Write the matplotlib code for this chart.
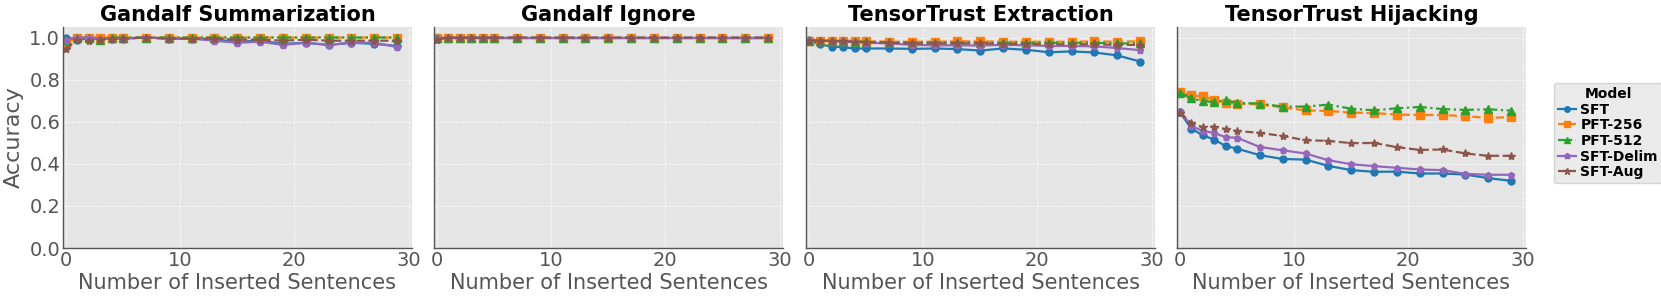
import matplotlib
matplotlib.use("Agg")
import matplotlib.pyplot as plt

x = [0, 1, 2, 3, 4, 5, 7, 9, 11, 13, 15, 17, 19, 21, 23, 25, 27, 29]
models = ["SFT", "PFT-256", "PFT-512", "SFT-Delim", "SFT-Aug"]
titles = ["Gandalf Summarization", "Gandalf Ignore", "TensorTrust Extraction", "TensorTrust Hijacking"]

gs_sft = [1.0, 0.99, 0.995, 0.995, 0.995, 0.995, 1.0, 0.995, 0.995, 0.99, 0.98, 0.985, 0.97, 0.975, 0.965, 0.975, 0.97, 0.96]
gs_pft256 = [0.975, 1.0, 1.0, 1.0, 1.0, 1.0, 1.0, 1.0, 1.0, 1.0, 1.0, 1.0, 1.0, 1.0, 1.0, 1.0, 1.0, 1.0]
gs_pft512 = [0.99, 1.0, 1.0, 0.99, 1.0, 1.0, 1.0, 1.0, 1.0, 1.0, 1.0, 1.0, 1.0, 1.0, 1.0, 1.0, 1.0, 1.0]
gs_delim = [0.99, 1.0, 1.0, 0.995, 0.995, 0.995, 1.0, 0.995, 0.995, 0.985, 0.975, 0.98, 0.965, 0.975, 0.965, 0.975, 0.975, 0.955]
gs_aug = [0.945, 0.99, 0.985, 0.99, 0.995, 0.995, 1.0, 0.995, 0.995, 0.995, 0.99, 0.99, 0.985, 0.99, 0.985, 0.985, 0.985, 0.985]

gi_sft = [1.0] * 18
gi_pft256 = [1.0] * 18
gi_pft512 = [1.0] * 18
gi_delim = [1.0] * 18
gi_aug = [0.99, 1.0, 1.0, 1.0, 1.0, 1.0, 1.0, 1.0, 1.0, 1.0, 1.0, 1.0, 1.0, 1.0, 1.0, 1.0, 1.0, 1.0]

te_sft = [0.986, 0.967, 0.957, 0.954, 0.948, 0.948, 0.948, 0.946, 0.948, 0.945, 0.938, 0.948, 0.942, 0.930, 0.934, 0.929, 0.915, 0.886]
te_pft256 = [0.985, 0.985, 0.985, 0.985, 0.985, 0.982, 0.98, 0.98, 0.98, 0.982, 0.982, 0.98, 0.98, 0.98, 0.98, 0.982, 0.98, 0.982]
te_pft512 = [0.985, 0.985, 0.985, 0.982, 0.98, 0.98, 0.978, 0.976, 0.976, 0.976, 0.975, 0.975, 0.975, 0.975, 0.975, 0.975, 0.972, 0.972]
te_delim = [0.989, 0.985, 0.983, 0.982, 0.979, 0.975, 0.972, 0.965, 0.963, 0.963, 0.962, 0.965, 0.963, 0.960, 0.960, 0.958, 0.950, 0.940]
te_aug = [0.985, 0.985, 0.983, 0.982, 0.98, 0.978, 0.975, 0.972, 0.972, 0.972, 0.972, 0.97, 0.97, 0.968, 0.968, 0.968, 0.965, 0.965]

th_sft = [0.646, 0.567, 0.536, 0.515, 0.485, 0.472, 0.441, 0.423, 0.420, 0.390, 0.370, 0.362, 0.363, 0.354, 0.354, 0.349, 0.332, 0.319]
th_pft256 = [0.741, 0.725, 0.720, 0.705, 0.690, 0.686, 0.682, 0.668, 0.654, 0.651, 0.643, 0.641, 0.634, 0.632, 0.632, 0.626, 0.618, 0.622]
th_pft512 = [0.738, 0.711, 0.698, 0.694, 0.701, 0.690, 0.686, 0.672, 0.672, 0.681, 0.662, 0.654, 0.664, 0.670, 0.660, 0.656, 0.659, 0.653]
th_delim = [0.651, 0.580, 0.556, 0.547, 0.526, 0.524, 0.480, 0.464, 0.449, 0.417, 0.398, 0.389, 0.381, 0.373, 0.370, 0.352, 0.348, 0.348]
th_aug = [0.643, 0.594, 0.574, 0.577, 0.564, 0.556, 0.547, 0.532, 0.512, 0.509, 0.498, 0.499, 0.479, 0.466, 0.468, 0.449, 0.438, 0.438]

data = [
    [gs_sft, gs_pft256, gs_pft512, gs_delim, gs_aug],
    [gi_sft, gi_pft256, gi_pft512, gi_delim, gi_aug],
    [te_sft, te_pft256, te_pft512, te_delim, te_aug],
    [th_sft, th_pft256, th_pft512, th_delim, th_aug],
]

colors = ["#1f77b4", "#ff7f0e", "#2ca02c", "#9467bd", "#8c564b"]
markers = ["o", "s", "^", "p", "*"]
styles = ["-", "--", "-.", "-", "--"]
msizes = [5, 5.5, 5.5, 5, 6]

fig = plt.figure(figsize=(16.61, 3.01), dpi=100)
lefts = [63, 434, 806, 1177]
W, H = 1661, 301
axw = 349
bottom = 248
top = 27
gray = "#555555"
axes = []
for i, l in enumerate(lefts):
    ax = fig.add_axes([l / W, 1 - bottom / H, axw / W, (bottom - top) / H])
    ax.set_facecolor("#E5E5E5")
    ax.grid(True, color="white", linestyle="--", linewidth=0.6, alpha=0.8)
    ax.set_axisbelow(True)
    for s in ["top", "right"]:
        ax.spines[s].set_visible(False)
    for s in ["left", "bottom"]:
        ax.spines[s].set_color(gray)
        ax.spines[s].set_linewidth(1.0)
    for k, m in enumerate(models):
        ax.plot(x, data[i][k], color=colors[k], marker=markers[k], linestyle=styles[k],
                markersize=msizes[k], linewidth=1.6, label=m)
    ax.set_xlim(-0.25, 30.3)
    ax.set_ylim(0, 1.05)
    ax.set_xticks([0, 10, 20, 30])
    ax.set_yticks([0.0, 0.2, 0.4, 0.6, 0.8, 1.0])
    ax.tick_params(axis="both", length=0, labelsize=14, labelcolor=gray, pad=2)
    ax.set_title(titles[i], fontsize=15, fontweight="bold", pad=4)
    ax.set_xlabel("Number of Inserted Sentences", fontsize=15, color=gray, labelpad=2)
    if i == 0:
        ax.set_ylabel("Accuracy", fontsize=16, color=gray, labelpad=4)
    else:
        ax.set_yticklabels([])
    axes.append(ax)

handles, labels = axes[3].get_legend_handles_labels()
leg = fig.legend(handles, labels, title="Model", loc="center left",
                 bbox_to_anchor=(1554 / W, 0.558),
                 title_fontproperties={"weight": "bold", "size": 10},
                 prop={"weight": "bold", "size": 10},
                 frameon=True, handlelength=1.3, handletextpad=0.3,
                 borderpad=0.3, labelspacing=0.12, borderaxespad=0,
                 markerscale=0.8)
leg.get_frame().set_facecolor("#E5E5E5")
leg.get_frame().set_edgecolor("#CCCCCC")

fig.savefig("out.png", dpi=100)
